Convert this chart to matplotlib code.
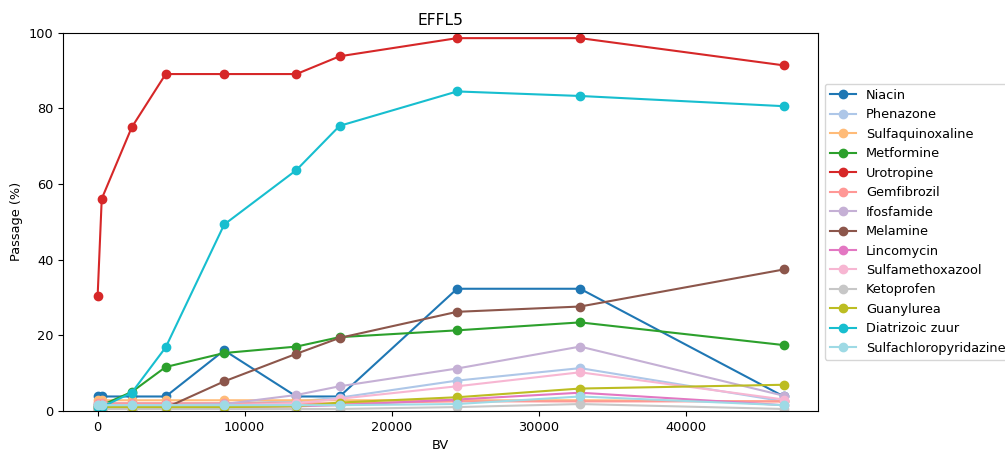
import numpy as np
import matplotlib
matplotlib.use("Agg")
import matplotlib.pyplot as plt

# bed volumes
bv = [0, 280, 2320, 4630, 8610, 13520, 16460, 24450, 32820, 46670]

# passage per compound (%)
niacin = [3.8, 3.8, 3.8, 3.8, 16.0, 3.8, 3.8, 32.3, 32.3, 3.8]
phenazone = [2.0, 2.0, 2.0, 2.0, 2.0, 2.5, 3.5, 8.0, 11.3, 2.5]
sulfaquinoxaline = [2.8, 2.8, 2.8, 2.8, 2.8, 2.8, 2.8, 2.8, 2.8, 2.5]
metformine = [1.5, 1.5, 5.0, 11.6, 15.3, 17.0, 19.5, 21.3, 23.4, 17.4]
urotropine = [30.3, 56.1, 75.0, 89.1, 89.1, 89.1, 93.8, 98.6, 98.6, 91.4]
gemfibrozil = [2.0, 2.0, 2.0, 2.0, 2.0, 2.0, 2.0, 2.5, 2.5, 2.5]
ifosfamide = [1.5, 1.5, 1.5, 1.5, 1.8, 4.2, 6.5, 11.2, 17.0, 4.0]
melamine = [0.5, 0.5, 0.5, 0.8, 7.8, 15.1, 19.3, 26.2, 27.6, 37.4]
lincomycin = [1.0, 1.0, 1.0, 1.0, 1.0, 1.2, 1.5, 3.0, 4.8, 1.5]
sulfamethoxazool = [1.5, 1.5, 1.5, 1.5, 1.5, 2.0, 3.2, 6.5, 10.2, 3.0]
ketoprofen = [0.5, 0.5, 0.5, 0.5, 0.5, 0.5, 0.5, 1.0, 1.8, 0.5]
guanylurea = [1.0, 1.0, 1.0, 1.0, 1.0, 1.2, 2.2, 3.6, 5.9, 6.9]
diatrizoic = [1.0, 1.0, 4.8, 16.8, 49.3, 63.7, 75.4, 84.5, 83.3, 80.6]
sulfachloropyridazine = [1.5, 1.5, 1.5, 1.5, 1.5, 1.5, 1.5, 1.8, 3.8, 1.5]

names = ["Niacin", "Phenazone", "Sulfaquinoxaline", "Metformine", "Urotropine",
         "Gemfibrozil", "Ifosfamide", "Melamine", "Lincomycin", "Sulfamethoxazool",
         "Ketoprofen", "Guanylurea", "Diatrizoic zuur", "Sulfachloropyridazine"]
series = [niacin, phenazone, sulfaquinoxaline, metformine, urotropine,
          gemfibrozil, ifosfamide, melamine, lincomycin, sulfamethoxazool,
          ketoprofen, guanylurea, diatrizoic, sulfachloropyridazine]

# tab20 picks
colors = ["#1f77b4", "#aec7e8", "#ffbb78", "#2ca02c", "#d62728", "#ff9896",
          "#c5b0d5", "#8c564b", "#e377c2", "#f7b6d2", "#c7c7c7", "#bcbd22",
          "#17becf", "#9edae5"]

plt.rcParams["font.size"] = 9.3

fig = plt.figure(figsize=(10.05, 4.5), dpi=100)
ax = fig.add_axes([0.063, 0.087, 0.751, 0.840])

for name, vals, c in zip(names, series, colors):
    ax.plot(bv, vals, marker="o", color=c, label=name)

ax.set_ylim(0, 100)
ax.set_title("EFFL5")
ax.set_xlabel("BV")
ax.set_ylabel("Passage (%)")
ax.legend(loc="center left", bbox_to_anchor=(1.0, 0.5))

fig.savefig("out.png", dpi=100)
